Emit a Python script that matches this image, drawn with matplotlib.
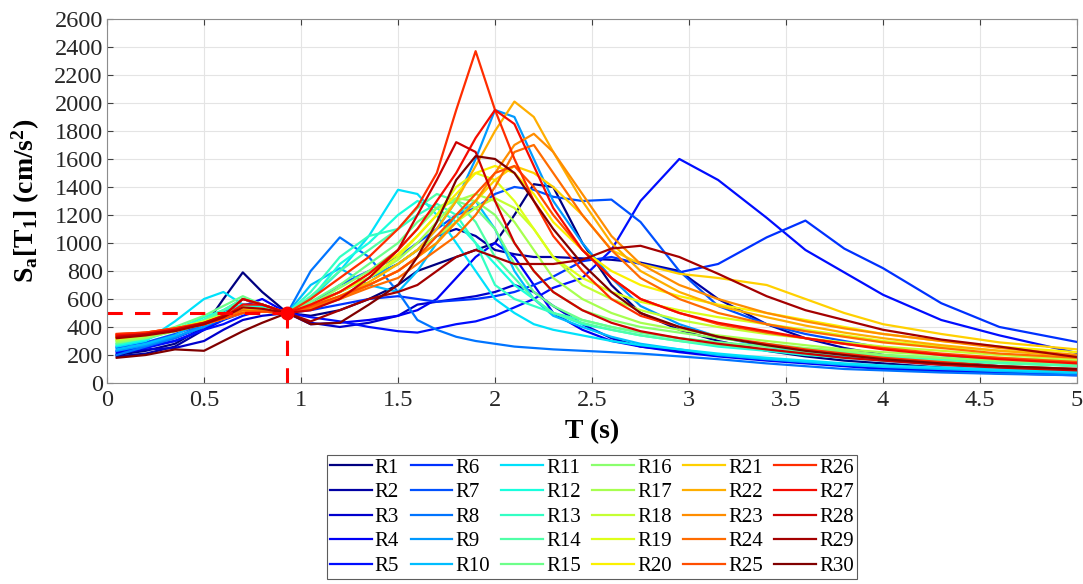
import numpy as np
import matplotlib
matplotlib.use("Agg")
import matplotlib.pyplot as plt

plt.rcParams['font.family'] = ['Liberation Serif', 'DejaVu Serif']
plt.rcParams['mathtext.fontset'] = 'custom'
plt.rcParams['mathtext.rm'] = 'Liberation Serif:bold'
plt.rcParams['mathtext.it'] = 'Liberation Serif:bold'
plt.rcParams['mathtext.bf'] = 'Liberation Serif:bold'

# periodos (s)
periods = [0.05, 0.2, 0.35, 0.5, 0.6, 0.7, 0.8, 0.93,
           1.05, 1.2, 1.35, 1.5, 1.6, 1.7, 1.8, 1.9,
           2.0, 2.1, 2.2, 2.3, 2.45, 2.6, 2.75, 2.95,
           3.15, 3.4, 3.6, 3.8, 4.0, 4.3, 4.6, 5.0]

# periodo fundamental y aceleracion objetivo
T1 = 0.93
sa_target = 500

# espectros escalados (cm/s2)
r1 = [200, 230, 280, 400, 600, 790, 650, 500,
      480, 520, 600, 700, 800, 850, 900, 950,
      1000, 1200, 1420, 1400, 1000, 700, 500, 380,
      300, 230, 190, 160, 140, 110, 90, 70]
r2 = [190, 210, 260, 380, 500, 600, 560, 500,
      560, 650, 750, 850, 950, 1050, 1100, 1050,
      950, 920, 900, 900, 890, 880, 860, 800,
      600, 420, 320, 250, 200, 160, 120, 90]
r3 = [210, 240, 250, 300, 380, 450, 480, 500,
      430, 400, 430, 480, 560, 580, 600, 620,
      650, 700, 650, 550, 420, 320, 260, 230,
      200, 170, 150, 130, 110, 90, 75, 60]
r4 = [220, 260, 300, 380, 450, 550, 600, 500,
      420, 430, 450, 480, 520, 600, 750, 900,
      1000, 900, 700, 500, 380, 300, 260, 220,
      190, 160, 140, 120, 100, 85, 70, 55]
r5 = [230, 250, 300, 380, 420, 480, 520, 500,
      470, 440, 400, 370, 360, 390, 420, 440,
      480, 540, 600, 680, 750, 950, 1300, 1600,
      1450, 1180, 950, 790, 630, 450, 340, 214]
r6 = [250, 270, 320, 400, 450, 500, 540, 500,
      520, 560, 600, 620, 600, 580, 590, 600,
      620, 650, 700, 760, 870, 900, 850, 790,
      850, 1040, 1160, 960, 820, 570, 400, 293]
r7 = [260, 290, 350, 420, 480, 560, 560, 500,
      560, 700, 800, 900, 1000, 1100, 1200, 1250,
      1350, 1400, 1380, 1330, 1300, 1310, 1150, 800,
      550, 420, 350, 300, 250, 200, 160, 120]
r8 = [200, 260, 320, 420, 500, 560, 540, 500,
      800, 1040, 900, 650, 450, 380, 330, 300,
      280, 260, 250, 240, 230, 220, 210, 190,
      170, 140, 120, 100, 90, 75, 65, 55]
r9 = [230, 270, 330, 400, 470, 560, 540, 500,
      560, 650, 750, 850, 950, 1100, 1300, 1600,
      1950, 1900, 1600, 1300, 1000, 750, 550, 420,
      330, 260, 220, 190, 160, 130, 110, 90]
r10 = [240, 280, 340, 450, 520, 600, 560, 500,
       700, 820, 700, 650, 800, 1000, 1200, 1300,
       1100, 800, 600, 480, 400, 330, 280, 240,
       200, 170, 150, 130, 115, 100, 85, 70]
r11 = [260, 300, 440, 600, 650, 560, 520, 500,
       600, 800, 1050, 1380, 1350, 1200, 1000, 800,
       600, 500, 420, 380, 340, 300, 270, 240,
       210, 180, 160, 140, 125, 110, 95, 80]
r12 = [270, 310, 380, 470, 520, 560, 540, 500,
       600, 850, 1000, 1200, 1300, 1250, 1150, 1000,
       850, 700, 600, 500, 420, 380, 340, 300,
       260, 230, 200, 180, 160, 140, 120, 100]
r13 = [280, 320, 380, 450, 500, 540, 520, 500,
       650, 900, 1050, 1100, 1200, 1280, 1200, 1000,
       700, 600, 550, 500, 450, 400, 360, 320,
       290, 260, 230, 210, 190, 170, 150, 130]
r14 = [280, 330, 380, 450, 520, 600, 560, 500,
       620, 800, 950, 1100, 1250, 1350, 1300, 1150,
       900, 750, 600, 500, 430, 380, 340, 300,
       270, 240, 220, 200, 180, 160, 140, 120]
r15 = [300, 340, 400, 480, 550, 620, 560, 500,
       580, 700, 850, 1000, 1150, 1250, 1300, 1250,
       1100, 850, 650, 550, 450, 400, 360, 320,
       290, 260, 240, 220, 200, 180, 160, 140]
r16 = [290, 320, 370, 430, 480, 540, 530, 500,
       560, 680, 800, 950, 1100, 1250, 1320, 1300,
       1200, 1000, 800, 650, 520, 450, 400, 360,
       320, 280, 250, 230, 200, 180, 160, 140]
r17 = [300, 330, 370, 420, 470, 520, 520, 500,
       550, 650, 750, 880, 1000, 1150, 1300, 1350,
       1300, 1150, 950, 750, 600, 500, 430, 380,
       340, 300, 270, 240, 220, 200, 180, 160]
r18 = [310, 340, 380, 430, 480, 530, 520, 500,
       540, 620, 720, 850, 950, 1050, 1150, 1250,
       1320, 1250, 1100, 900, 700, 600, 520, 450,
       400, 350, 320, 290, 260, 230, 200, 170]
r19 = [320, 350, 390, 440, 490, 540, 530, 500,
       560, 650, 750, 900, 1050, 1200, 1400, 1500,
       1450, 1300, 1100, 900, 750, 650, 580, 520,
       470, 420, 380, 340, 300, 260, 230, 200]
r20 = [320, 340, 380, 430, 470, 520, 520, 500,
       550, 650, 780, 920, 1050, 1200, 1350, 1500,
       1550, 1500, 1350, 1150, 950, 800, 700, 620,
       560, 500, 450, 400, 350, 300, 260, 220]
r21 = [330, 350, 380, 420, 460, 510, 520, 500,
       540, 620, 700, 800, 900, 1000, 1150, 1300,
       1450, 1550, 1500, 1400, 1200, 950, 850, 780,
       750, 700, 600, 500, 420, 350, 290, 240]
r22 = [330, 350, 380, 420, 460, 500, 510, 500,
       540, 620, 720, 850, 950, 1100, 1300, 1550,
       1800, 2010, 1900, 1650, 1300, 1000, 800, 650,
       550, 470, 410, 360, 320, 270, 230, 190]
r23 = [340, 350, 380, 420, 460, 500, 510, 500,
       530, 600, 700, 800, 900, 1000, 1150, 1300,
       1500, 1700, 1780, 1650, 1350, 1050, 850, 700,
       600, 500, 440, 390, 350, 300, 250, 200]
r24 = [340, 360, 390, 430, 470, 520, 510, 500,
       540, 600, 680, 750, 850, 950, 1050, 1200,
       1400, 1650, 1700, 1500, 1200, 950, 750, 600,
       500, 420, 370, 330, 290, 250, 210, 180]
r25 = [350, 360, 390, 420, 460, 500, 510, 500,
       550, 620, 700, 800, 900, 1050, 1200, 1350,
       1500, 1550, 1400, 1200, 950, 750, 600, 500,
       420, 360, 320, 280, 250, 210, 180, 150]
r26 = [350, 360, 390, 430, 480, 600, 560, 500,
       600, 750, 900, 1100, 1260, 1500, 1950, 2370,
       1950, 1600, 1300, 1050, 800, 600, 480, 400,
       330, 280, 240, 210, 180, 150, 120, 100]
r27 = [340, 350, 380, 420, 470, 560, 560, 500,
       560, 650, 780, 950, 1100, 1300, 1500, 1750,
       1950, 1850, 1550, 1250, 950, 750, 600, 500,
       430, 370, 320, 280, 240, 200, 170, 140]
r28 = [330, 350, 380, 430, 480, 600, 560, 500,
       520, 600, 750, 950, 1200, 1450, 1720, 1650,
       1300, 1000, 800, 650, 520, 430, 370, 320,
       280, 240, 210, 180, 160, 130, 110, 90]
r29 = [320, 340, 370, 420, 470, 540, 530, 500,
       440, 520, 600, 650, 700, 800, 900, 950,
       900, 850, 850, 850, 880, 960, 980, 900,
       780, 620, 520, 450, 380, 310, 260, 185]
r30 = [180, 200, 240, 230, 300, 370, 430, 500,
       420, 430, 560, 700, 900, 1150, 1450, 1620,
       1600, 1500, 1300, 1100, 850, 650, 500, 400,
       330, 270, 230, 200, 170, 140, 120, 100]

records = [r1, r2, r3, r4, r5, r6, r7, r8, r9, r10,
           r11, r12, r13, r14, r15, r16, r17, r18, r19, r20,
           r21, r22, r23, r24, r25, r26, r27, r28, r29, r30]
names = ['R%d' % (i + 1) for i in range(len(records))]

fig = plt.figure(figsize=(10.83, 5.84), dpi=100)
ax = fig.add_axes([0.0988, 0.3442, 0.8957, 0.6233])

colores = plt.cm.jet(np.linspace(0, 1, len(records)))
for sa, nombre, c in zip(records, names, colores):
    ax.plot(periods, sa, color=c, linewidth=1.6, label=nombre)

# lineas de referencia en T1
ax.plot([0, T1], [sa_target, sa_target], '--', color='red', linewidth=2.2, dashes=(5, 4))
ax.plot([T1, T1], [0, sa_target], '--', color='red', linewidth=2.2, dashes=(5, 4))
ax.plot(T1, sa_target, 'o', color='red', markersize=9)

ax.set_xlim(0, 5)
ax.set_ylim(0, 2600)
ax.set_xticks(np.arange(0, 5.01, 0.5))
ax.set_xticklabels(['0', '0.5', '1', '1.5', '2', '2.5', '3', '3.5', '4', '4.5', '5'])
ax.set_yticks(np.arange(0, 2601, 200))
ax.tick_params(direction='in', top=True, right=True, labelsize=17.5, length=4,
               color='#404040', labelcolor='#262626')
ax.tick_params(axis='x', pad=5)
ax.tick_params(axis='y', pad=3)
for s in ax.spines.values():
    s.set_color('#8c8c8c')
ax.grid(True, color='#e4e4e4', linewidth=0.8)
ax.set_axisbelow(True)

ax.set_xlabel('T (s)', fontsize=20, fontweight='bold', labelpad=6)
ax.set_ylabel(r'S$_{\mathrm{a}}$[T$_{\mathrm{1}}$] (cm/s$^{\mathrm{2}}$)',
              fontsize=20, fontweight='bold', labelpad=9)

leg = fig.legend(loc='upper center', bbox_to_anchor=(592 / 1083, 1 - 455 / 584),
                 ncol=6, fontsize=15, handlelength=2.0, handletextpad=0.15,
                 columnspacing=0.55, labelspacing=0.24, frameon=True,
                 fancybox=False, edgecolor='#333333', borderpad=0.15,
                 borderaxespad=0)
leg.get_frame().set_linewidth(0.8)

fig.savefig('out.png', dpi=100)
